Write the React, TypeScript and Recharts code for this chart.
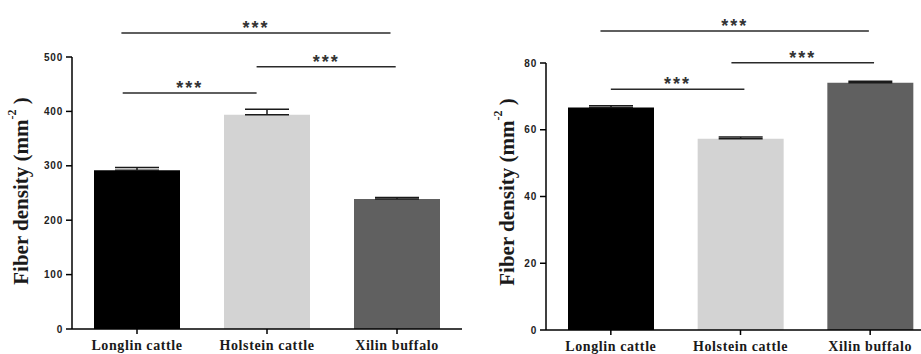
import { Bar, BarChart, Cell, ErrorBar, Label, ReferenceLine, XAxis, YAxis } from "recharts";

const BREEDS = ["Longlin cattle", "Holstein cattle", "Xilin buffalo"];
const BAR_COLORS = ["#000000", "#d3d3d3", "#606060"];

// left panel
const LEFT_MEANS = [292, 394, 239];
const LEFT_SEM = [5, 10, 2.5];
const LEFT_TICKS = [0, 100, 200, 300, 400, 500];

// right panel
const RIGHT_MEANS = [66.7, 57.3, 74.1];
const RIGHT_SEM = [0.5, 0.5, 0.4];
const RIGHT_TICKS = [0, 20, 40, 60, 80];

// significance brackets: [from, to, y]  (from/to in category index units)
const LEFT_SIG: [number, number, number][] = [
  [-0.12, 1.95, 544],
  [0.92, 1.99, 482],
  [-0.11, 0.92, 434],
];
const RIGHT_SIG: [number, number, number][] = [
  [-0.08, 1.99, 89.6],
  [0.93, 2.03, 80.1],
  [0.0, 1.03, 72.1],
];

const SERIF = "'Liberation Serif', 'DejaVu Serif', serif";
const SANS = "'Liberation Sans', Arial, sans-serif";

function buildRows(means: number[], sem: number[]) {
  return BREEDS.map((breed, i) => ({ pos: i, breed, mean: means[i], err: [0, sem[i]] }));
}

function DensityLabel({ cx, cy }: { cx: number; cy: number }) {
  return (
    <text
      transform={`translate(${cx},${cy}) rotate(-90)`}
      textAnchor="middle"
      dominantBaseline="central"
      fontFamily={SERIF}
      fontWeight="bold"
      fontSize={21}
      fill="#1a1a1a"
    >
      Fiber density (mm
      <tspan fontSize={12} dy={-9}>
        -2
      </tspan>
      <tspan dy={9}> )</tspan>
    </text>
  );
}

interface PanelProps {
  left: number;
  width: number;
  plotLeft: number;
  plotTop: number;
  plotBottom: number;
  rightMargin: number;
  means: number[];
  sem: number[];
  ticks: number[];
  sig: [number, number, number][];
  labelX: number;
  labelY: number;
}

function Panel(p: PanelProps) {
  const data = buildRows(p.means, p.sem);
  const max = p.ticks[p.ticks.length - 1];
  return (
    <div style={{ position: "absolute", left: p.left, top: 0 }}>
      <BarChart
        width={p.width}
        height={354}
        data={data}
        barSize={86}
        margin={{ top: p.plotTop, right: p.rightMargin, bottom: 0, left: 0 }}
      >
        <XAxis
          dataKey="pos"
          type="number"
          domain={[-0.5, 2.5]}
          allowDataOverflow
          ticks={[0, 1, 2]}
          tickFormatter={(v: number) => BREEDS[v] ?? ""}
          height={354 - p.plotBottom}
          axisLine={{ stroke: "#000", strokeWidth: 1.5 }}
          tickLine={{ stroke: "#000", strokeWidth: 1.5 }}
          tickSize={5}
          tickMargin={6}
          interval={0}
          tick={{ fontFamily: SERIF, fontWeight: "bold", fontSize: 14, letterSpacing: 0.6, fill: "#1a1a1a" }}
        />
        <YAxis
          width={p.plotLeft}
          domain={[0, max]}
          ticks={p.ticks}
          interval={0}
          axisLine={{ stroke: "#000", strokeWidth: 1.5 }}
          tickLine={{ stroke: "#000", strokeWidth: 1.5 }}
          tickSize={6}
          tickMargin={3}
          tick={{ fontFamily: SANS, fontWeight: "bold", fontSize: 10, letterSpacing: 0.8, fill: "#222" }}
        >
          <Label content={() => <DensityLabel cx={p.labelX} cy={p.labelY} />} />
        </YAxis>
        <Bar dataKey="mean" isAnimationActive={false}>
          {data.map((row, i) => (
            <Cell key={row.breed} fill={BAR_COLORS[i]} />
          ))}
          <ErrorBar dataKey="err" width={22} stroke="#1a1a1a" strokeWidth={1.5} direction="y" />
        </Bar>
        {p.sig.map(([a, b, y], i) => (
          <ReferenceLine
            key={i}
            segment={[
              { x: a, y },
              { x: b, y },
            ]}
            stroke="#2a2a2a"
            strokeWidth={1.5}
            ifOverflow="visible"
          >
            <Label
              value="***"
              position="top"
              offset={-1}
              fontFamily={SANS}
              fontWeight="bold"
              fontSize={18}
              letterSpacing={2}
              fill="#333"
            />
          </ReferenceLine>
        ))}
      </BarChart>
    </div>
  );
}

export default function App() {
  return (
    <div
      style={{
        position: "absolute",
        left: 0,
        top: 0,
        width: 921,
        height: 354,
        overflow: "hidden",
        background: "#fff",
      }}
    >
      <Panel
        left={0}
        width={470}
        plotLeft={72}
        plotTop={57}
        plotBottom={329}
        rightMargin={8}
        means={LEFT_MEANS}
        sem={LEFT_SEM}
        ticks={LEFT_TICKS}
        sig={LEFT_SIG}
        labelX={21}
        labelY={191}
      />
      <Panel
        left={460}
        width={480}
        plotLeft={86}
        plotTop={63}
        plotBottom={330}
        rightMargin={5}
        means={RIGHT_MEANS}
        sem={RIGHT_SEM}
        ticks={RIGHT_TICKS}
        sig={RIGHT_SIG}
        labelX={47}
        labelY={192}
      />
    </div>
  );
}
